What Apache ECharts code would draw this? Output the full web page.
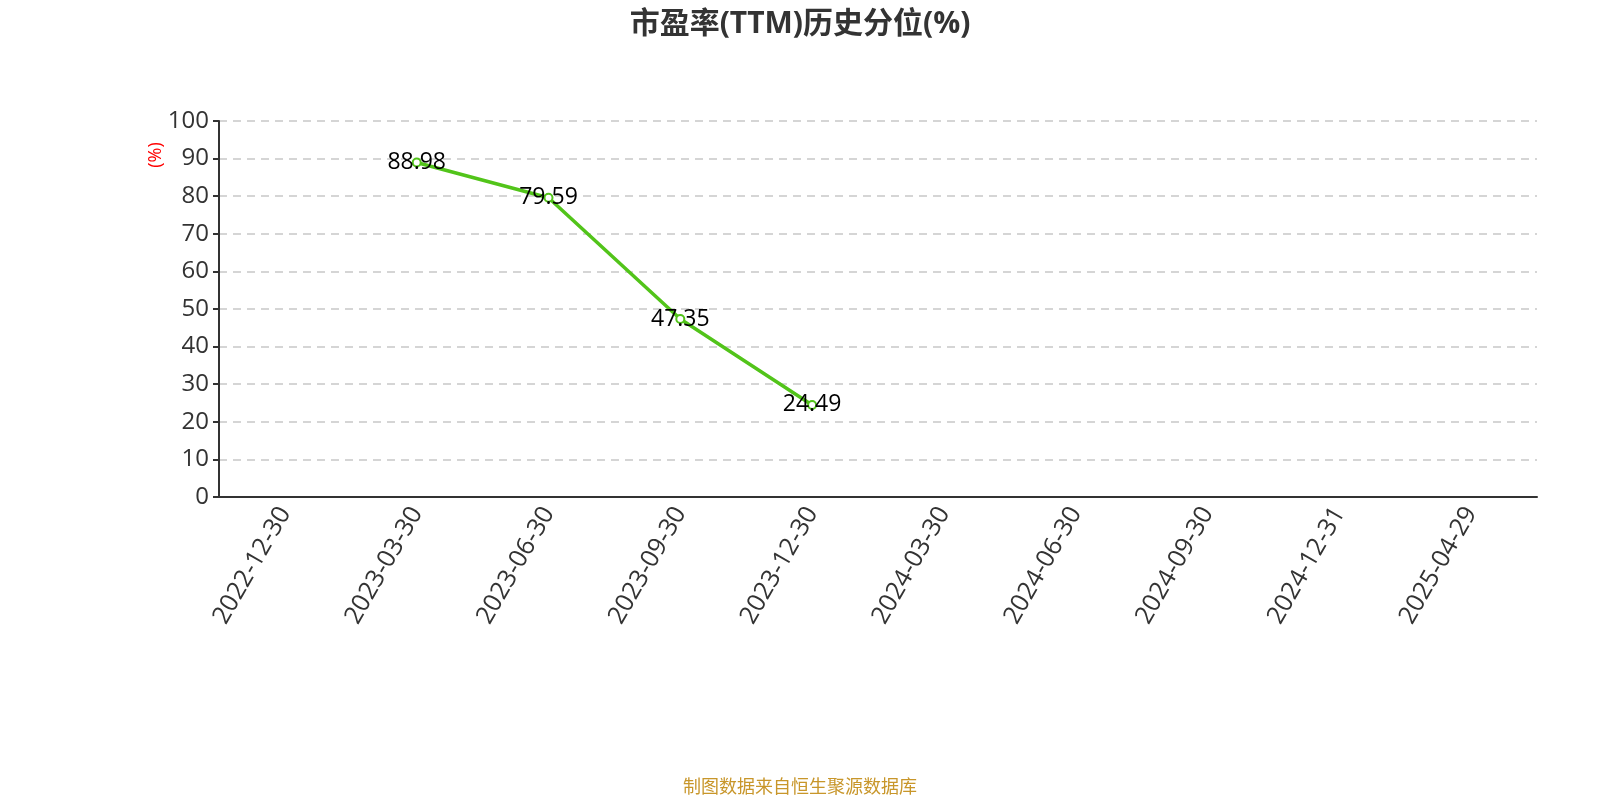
<!DOCTYPE html>
<html><head><meta charset="utf-8">
<script src="https://cdn.jsdelivr.net/npm/echarts@6/dist/echarts.min.js"></script>
<style>html,body{margin:0;padding:0;background:#fff}#c{width:1600px;height:800px}</style>
</head><body><div id="c"></div>
<script>
const categories = ['2022-12-30','2023-03-30','2023-06-30','2023-09-30','2023-12-30','2024-03-30','2024-06-30','2024-09-30','2024-12-31','2025-04-29'];
const values = [null, 88.98, 79.59, 47.35, 24.49, null, null, null, null, null];
const yTicks = {min: 0, max: 100, interval: 10};
const FONT = '"Open Sans", "Noto Sans CJK SC", sans-serif';
const chart = echarts.init(document.getElementById('c'));
chart.setOption({
  animation: false,
  title: {text: '市盈率(TTM)历史分位(%)', left: 'center', top: 4,
    textStyle: {fontFamily: FONT, fontSize: 30, fontWeight: 'bold', color: '#333'}},
  grid: {left: 219, right: 63, top: 121, bottom: 303},
  xAxis: {type: 'category', data: categories, boundaryGap: true,
    axisLine: {lineStyle: {color: '#333', width: 2}},
    axisTick: {length: 6, lineStyle: {color: '#333', width: 2}},
    axisLabel: {rotate: 60, fontSize: 25, color: '#333', fontFamily: FONT, interval: 0, margin: 12},
    splitLine: {show: false}},
  yAxis: {type: 'value', min: yTicks.min, max: yTicks.max, interval: yTicks.interval,
    axisLine: {show: true, lineStyle: {color: '#333', width: 2}},
    axisTick: {show: true, length: 6, lineStyle: {color: '#333', width: 2}},
    axisLabel: {fontSize: 24, color: '#333', fontFamily: FONT, margin: 10},
    splitLine: {lineStyle: {type: [8, 6], color: '#c8c8c8', width: 1.5}}},
  series: [{type: 'line', data: values, connectNulls: false,
    lineStyle: {color: '#52c41a', width: 3.5},
    itemStyle: {color: '#52c41a', borderColor: '#52c41a', borderWidth: 2},
    symbol: 'emptyCircle', symbolSize: 8, showSymbol: true,
    label: {show: true, position: 'inside', fontSize: 23, color: '#000', fontFamily: FONT}}],
  graphic: [
    {type: 'text', x: 156, y: 155, rotation: Math.PI/2,
      style: {text: '(%)', fill: '#ff0000', font: '18px ' + FONT, align: 'center', verticalAlign: 'middle'}},
    {type: 'text', left: 'center', top: 779,
      style: {text: '制图数据来自恒生聚源数据库', fill: '#c8962a', font: '18px ' + FONT}}
  ]
});
</script></body></html>
